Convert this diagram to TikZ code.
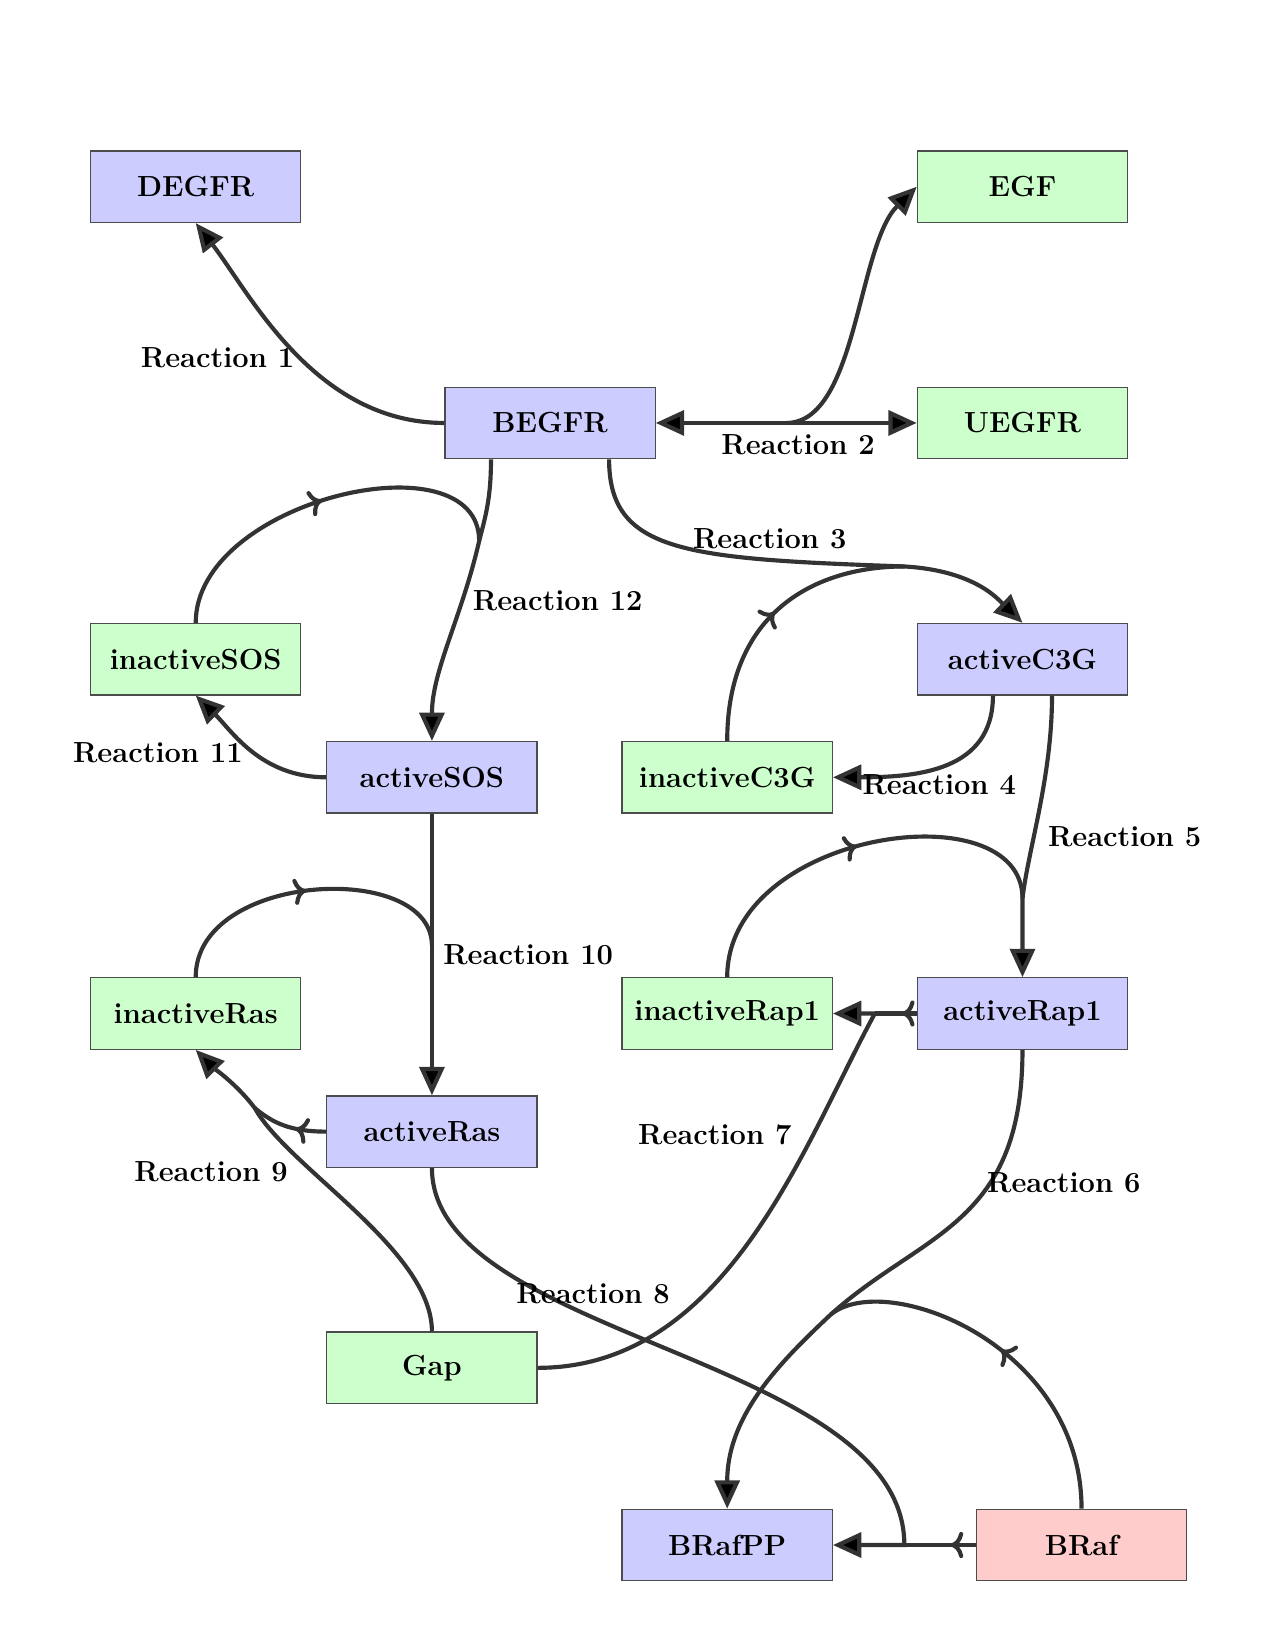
\documentclass[tikz,border=0pt]{standalone}
\usepackage{tikz}
\usetikzlibrary{arrows.meta,decorations.markings}
\definecolor{pblue}{HTML}{CCCCFF}
\definecolor{pgreen}{HTML}{CCFFCC}
\definecolor{pred}{HTML}{FFCCCC}
\definecolor{wire}{HTML}{333333}

\begin{document}
\begin{tikzpicture}[
  font=\fontsize{14}{17}\selectfont\bfseries,
  species/.style={draw=black!70,line width=0.6pt,minimum width=3.56cm,minimum height=1.21cm,inner sep=0pt},
  act/.style={species,fill=pblue},
  inact/.style={species,fill=pgreen},
  src/.style={species,fill=pred},
  flow/.style={draw=wire,line width=2pt},
  prod/.style={flow,-{Triangle[length=4.8mm,width=4.2mm,fill=black]}},
  both/.style={flow,{Triangle[length=4.8mm,width=4.2mm,fill=black]}-{Triangle[length=4.8mm,width=4.2mm,fill=black]}},
  reac/.style={flow,postaction={decorate},decoration={markings,mark=at position #1 with {\arrow{>}}}},
  reac/.default=0.5,
  rlbl/.style={inner sep=0pt},
]
\useasboundingbox (-3.314,3.162) rectangle (18.276,-24.778);

\node[act] (DEGFR) at (0,0) {DEGFR};
\node[inact] (EGF) at (14,0) {EGF};
\node[act] (BEGFR) at (6,-4) {BEGFR};
\node[inact] (UEGFR) at (14,-4) {UEGFR};
\node[inact] (inactiveSOS) at (0,-8) {inactiveSOS};
\node[act] (activeC3G) at (14,-8) {activeC3G};
\node[act] (activeSOS) at (4,-10) {activeSOS};
\node[inact] (inactiveC3G) at (9,-10) {inactiveC3G};
\node[inact] (inactiveRas) at (0,-14) {inactiveRas};
\node[inact] (inactiveRap1) at (9,-14) {inactiveRap1};
\node[act] (activeRap1) at (14,-14) {activeRap1};
\node[act] (activeRas) at (4,-16) {activeRas};
\node[inact] (Gap) at (4,-20) {Gap};
\node[act] (BRafPP) at (9,-23) {BRafPP};
\node[src] (BRaf) at (15,-23) {BRaf};

\coordinate (j2) at (10,-4);
\coordinate (j3) at (12,-6.43);
\coordinate (j5) at (14,-12.05);
\coordinate (j6) at (10.75,-19.1);
\coordinate (j7) at (11.5,-14);
\coordinate (j8) at (12,-23);
\coordinate (j9) at (1,-15.6);
\coordinate (j10) at (4,-12.85);
\coordinate (j12) at (4.8,-6);

\draw[prod] (BEGFR.west) .. controls (2.0,-4) and (0.9,-1.77) .. (DEGFR.south);
\draw[both] (BEGFR.east) -- (UEGFR.west);
\draw[prod] (j2) .. controls (11.2,-4) and (11.2,-1.0) .. (EGF.west);
\draw[prod] ([xshift=1cm]BEGFR.south) .. controls (7,-6.2) and (8.3,-6.3) .. (j3) .. controls (13.2,-6.5) and (13.6,-7.0) .. (activeC3G.north);
\draw[reac] (inactiveC3G.north) .. controls (9,-7.2) and (10.5,-6.43) .. (j3);
\draw[prod] ([xshift=-0.5cm]activeC3G.south) .. controls (13.5,-9.9) and (12.2,-10) .. (inactiveC3G.east);
\draw[prod] ([xshift=0.5cm]activeC3G.south) .. controls (14.5,-10.0) and (14.1,-11.2) .. (j5) -- (activeRap1.north);
\draw[reac] (inactiveRap1.north) .. controls (9,-10.9) and (14,-10.2) .. (j5);
\draw[prod] (activeRap1.south) .. controls (14,-17.6) and (12.3,-17.7) .. (j6) .. controls (9.9,-19.9) and (9,-20.8) .. (BRafPP.north);
\draw[reac] (BRaf.north) .. controls (15,-19.6) and (11.67,-18.33) .. (j6);
\draw[prod] (Gap.east) .. controls (9,-20) and (10.3,-16.2) .. (j7) -- (inactiveRap1.east);
\draw[reac=0.35] (activeRap1.west) -- (j7);
\draw[prod] (activeRas.south) .. controls (4,-19.5) and (12,-19.8) .. (j8) -- (BRafPP.east);
\draw[reac=0.35] (BRaf.west) -- (j8);
\draw[prod] (Gap.north) .. controls (4,-18.0) and (1.55,-16.6) .. (j9) .. controls (0.7,-15.2) and (0.28,-14.9) .. (inactiveRas.south);
\draw[reac=0.4] (activeRas.west) .. controls (1.6,-16) and (1.3,-15.85) .. (j9);
\draw[prod] (activeSOS.south) -- (j10) -- (activeRas.north);
\draw[reac] (inactiveRas.north) .. controls (0,-11.6) and (4,-11.4) .. (j10);
\draw[prod] (activeSOS.west) .. controls (1.1,-10) and (0.6,-9.2) .. (inactiveSOS.south);
\draw[prod] ([xshift=-1cm]BEGFR.south) .. controls (5,-5.3) and (4.9,-5.6) .. (j12) .. controls (4.5,-7.3) and (4,-8.2) .. (activeSOS.north);
\draw[reac] (inactiveSOS.north) .. controls (0,-5.3) and (4.8,-4.2) .. (j12);

\node[rlbl] (r1) at (0.37,-2.89) {Reaction 1};
\node[rlbl] (r2) at (10.2,-4.36) {Reaction 2};
\node[rlbl] (r3) at (9.72,-5.96) {Reaction 3};
\node[rlbl] (r4) at (12.59,-10.13) {Reaction 4};
\node[rlbl] (r5) at (15.73,-11.0) {Reaction 5};
\node[rlbl] (r6) at (14.7,-16.86) {Reaction 6};
\node[rlbl] (r7) at (8.79,-16.06) {Reaction 7};
\node[rlbl] (r8) at (6.73,-18.75) {Reaction 8};
\node[rlbl] (r9) at (0.26,-16.68) {Reaction 9};
\node[rlbl] (r10) at (5.63,-13.01) {Reaction 10};
\node[rlbl] (r11) at (-0.64,-9.59) {Reaction 11};
\node[rlbl] (r12) at (6.13,-7.01) {Reaction 12};
\end{tikzpicture}
\end{document}
